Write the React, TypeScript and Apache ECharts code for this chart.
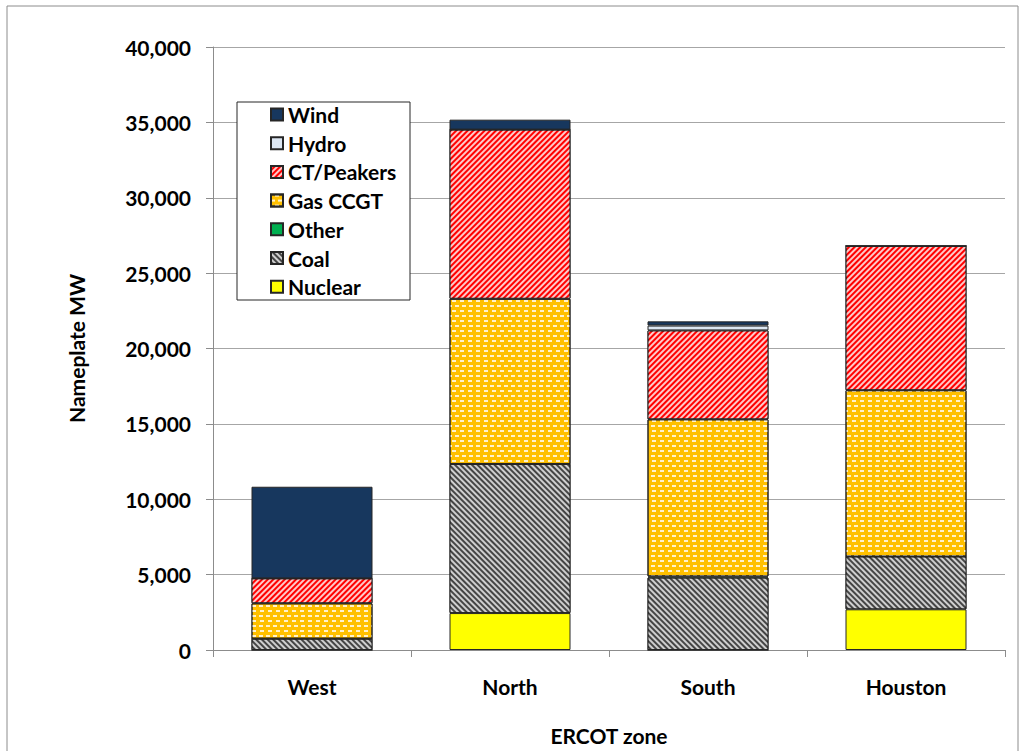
import React, { useEffect, useRef } from "react";
import * as echarts from "echarts";

// ERCOT installed capacity by zone (MW), stacked by fuel type
const zones = ["West", "North", "South", "Houston"];
const nuclear = [0, 2450, 0, 2700];
const coal = [750, 9890, 4800, 3500];
const other = [0, 0, 80, 0];
const gasCcgt = [2350, 10960, 10420, 11030];
const ctPeakers = [1650, 11220, 5900, 9570];
const hydro = [0, 0, 320, 0];
const wind = [6080, 660, 280, 0];
const legendOrder = ["Wind", "Hydro", "CT/Peakers", "Gas CCGT", "Other", "Coal", "Nuclear"];

const FONT = "Lato, 'Open Sans', sans-serif";
const W = 1025;
const H = 751;

export default function App() {
  const ref = useRef<HTMLDivElement>(null);

  useEffect(() => {
    if (!ref.current) return;
    document.body.style.margin = "0";
    const chart = echarts.init(ref.current, null, { renderer: "svg", width: W, height: H });

    const border = { borderColor: "#262626", borderWidth: 1 };
    const mk = (name: string, data: number[], itemStyle: any) => ({
      name,
      type: "bar",
      stack: "mw",
      data,
      barWidth: 121,
      itemStyle: { ...border, ...itemStyle },
      emphasis: { disabled: true },
    });

    const series = [
      mk("Nuclear", nuclear, { color: "#FFFF00" }),
      mk("Coal", coal, {
        color: "#454545",
        decal: {
          symbol: "rect",
          symbolSize: 1,
          dashArrayX: [1, 0],
          dashArrayY: [2, 2],
          rotation: Math.PI / 4,
          color: "#cfcfcf",
        },
      }),
      mk("Other", other, { color: "#00B050" }),
      mk("Gas CCGT", gasCcgt, {
        color: "#FFC000",
        decal: {
          symbol: "rect",
          symbolSize: 1,
          dashArrayX: [[4, 3], [0, 3.5, 4, 0]],
          dashArrayY: [1.5, 3],
          rotation: 0,
          color: "rgba(255,255,255,0.8)",
        },
      }),
      mk("CT/Peakers", ctPeakers, {
        color: "#FF0000",
        decal: {
          symbol: "rect",
          symbolSize: 1,
          dashArrayX: [1, 0],
          dashArrayY: [2, 2],
          rotation: -Math.PI / 4,
          color: "#FFC8C8",
        },
      }),
      mk("Hydro", hydro, { color: "#DCE6F2" }),
      mk("Wind", wind, { color: "#17375E" }),
    ];

    const bold = { fontFamily: FONT, fontWeight: "bold", fontSize: 21, color: "#000" };

    chart.setOption({
      animation: false,
      backgroundColor: "#ffffff",
      textStyle: { fontFamily: FONT },
      grid: { left: 213, top: 47, width: 792, height: 606, containLabel: false },
      graphic: [
        {
          type: "rect",
          shape: { x: 7, y: 6, width: 1011, height: 770 },
          style: { fill: "none", stroke: "#8c8c8c", lineWidth: 1 },
          silent: true,
        },
        {
          type: "rect",
          shape: { x: 237, y: 102, width: 173, height: 198 },
          style: { fill: "#ffffff", stroke: "#262626", lineWidth: 1 },
          silent: true,
          z: 5,
        },
      ],
      legend: {
        data: legendOrder,
        orient: "vertical",
        left: 265,
        top: 99,
        itemWidth: 12,
        itemHeight: 12,
        itemGap: 7.7,
        icon: "rect",
        selectedMode: false,
        z: 10,
        textStyle: bold,
      },
      xAxis: {
        type: "category",
        data: zones,
        name: "ERCOT zone",
        nameLocation: "middle",
        nameGap: 75,
        nameTextStyle: bold,
        axisLine: { lineStyle: { color: "#8c8c8c" } },
        axisTick: { show: true, length: 7, alignWithLabel: false, lineStyle: { color: "#8c8c8c" } },
        axisLabel: { ...bold, margin: 26 },
      },
      yAxis: {
        type: "value",
        min: 0,
        max: 40000,
        interval: 5000,
        name: "Nameplate MW",
        nameLocation: "middle",
        nameGap: 126,
        nameTextStyle: bold,
        axisLine: { show: true, lineStyle: { color: "#8c8c8c" } },
        axisTick: { show: true, length: 7, lineStyle: { color: "#8c8c8c" } },
        splitLine: { lineStyle: { color: "#a6a6a6" } },
        axisLabel: {
          ...bold,
          margin: 22,
          formatter: (v: number) => v.toLocaleString("en-US"),
        },
      },
      series,
    });

    return () => chart.dispose();
  }, []);

  return <div ref={ref} style={{ width: W, height: H }} />;
}
